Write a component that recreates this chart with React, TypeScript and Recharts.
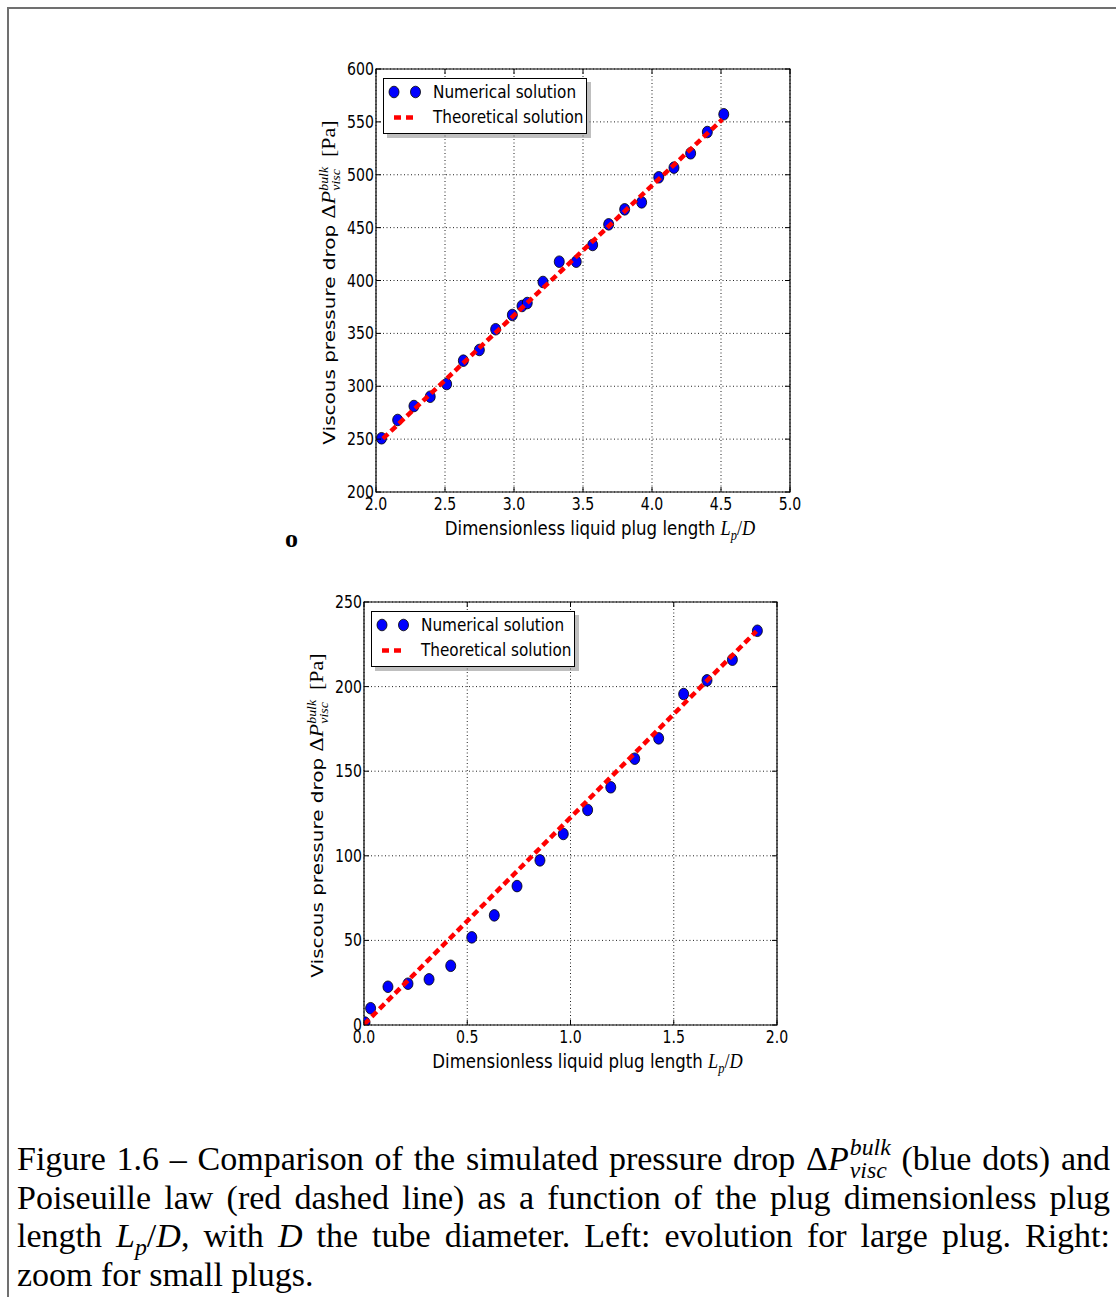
import React from 'react';
import { ScatterChart, Scatter, XAxis, YAxis, CartesianGrid, ReferenceArea, Legend, Label } from 'recharts';

// Large plugs (upper panel)
const largeLength = [2.04, 2.157, 2.275, 2.393, 2.512, 2.633, 2.749, 2.867, 2.988, 3.058, 3.096, 3.21, 3.328, 3.451, 3.57, 3.686, 3.802, 3.925, 4.049, 4.159, 4.28, 4.401, 4.52];
const largeDrop = [250.8, 268.1, 281.3, 290.1, 302.1, 324.2, 334.3, 353.9, 367.4, 375.9, 378.7, 398.6, 417.8, 417.8, 433.6, 453.1, 467.3, 473.9, 497.6, 506.7, 520.3, 540.4, 557.2];
const largeTheoryLength = [2.05, 4.51];
const largeTheoryDrop = [250.5, 552.4];
const largeLengthTicks = [2.0, 2.5, 3.0, 3.5, 4.0, 4.5, 5.0];
const largeDropTicks = [200, 250, 300, 350, 400, 450, 500, 550, 600];

// Small plugs (lower panel)
const smallLength = [0.005, 0.032, 0.116, 0.213, 0.315, 0.42, 0.522, 0.631, 0.741, 0.852, 0.965, 1.083, 1.195, 1.311, 1.427, 1.548, 1.661, 1.784, 1.905];
const smallDrop = [1.4, 9.9, 22.6, 24.4, 27.0, 35.0, 51.8, 64.8, 82.1, 97.3, 112.9, 127.1, 140.5, 157.4, 169.4, 195.6, 203.7, 215.9, 233.0];
const smallTheoryLength = [0.0, 1.9];
const smallTheoryDrop = [0.3, 232.7];
const smallLengthTicks = [0.0, 0.5, 1.0, 1.5, 2.0];
const smallDropTicks = [0, 50, 100, 150, 200, 250];

const K = 0.83; // the figure is squeezed horizontally in the page
const SANS = 'DejaVu Sans';
const MATH = 'Liberation Serif';
const PLOT_H = 423;

const toPoints = (xs: number[], ys: number[]) => xs.map((x, i) => ({ x, y: ys[i] }));

function Dot(props: any) {
  return <ellipse cx={props.cx} cy={props.cy} rx={5} ry={5.8} fill="#0000ff" stroke="#000" strokeWidth={0.8} />;
}

function XTick(props: any) {
  const { x, y, payload, plotH } = props;
  return (
    <g>
      <line x1={x} y1={y} x2={x} y2={y - 5} stroke="#000" />
      <line x1={x} y1={y - plotH} x2={x} y2={y - plotH + 5} stroke="#000" />
      <text transform={`translate(${x},${y + 18}) scale(${K},1)`} textAnchor="middle" fontFamily={SANS} fontSize={17} fill="#000">
        {Number(payload.value).toFixed(1)}
      </text>
    </g>
  );
}

function YTick(props: any) {
  const { x, y, payload, plotW } = props;
  return (
    <g>
      <line x1={x} y1={y} x2={x + 5} y2={y} stroke="#000" />
      <line x1={x + plotW} y1={y} x2={x + plotW - 5} y2={y} stroke="#000" />
      <text transform={`translate(${x - 2},${y + 6}) scale(${K},1)`} textAnchor="end" fontFamily={SANS} fontSize={17} fill="#000">
        {payload.value}
      </text>
    </g>
  );
}

function XTitle(props: any) {
  const { x, y, width } = props.viewBox;
  return (
    <text transform={`translate(${x + width / 2 + 17},${y + 43}) scale(${K},1)`} textAnchor="middle" fontFamily={SANS} fontSize={20} fill="#000">
      Dimensionless liquid plug length{' '}
      <tspan fontFamily={MATH} fontStyle="italic" fontSize={22}>L</tspan>
      <tspan fontFamily={MATH} fontStyle="italic" fontSize={15} dy={5}>p</tspan>
      <tspan fontFamily={MATH} fontSize={22} dy={-5}>/</tspan>
      <tspan fontFamily={MATH} fontStyle="italic" fontSize={22}>D</tspan>
    </text>
  );
}

function YTitle(props: any) {
  const { x, y, height } = props.viewBox;
  return (
    <text transform={`translate(${x + 65},${y + height / 2 + 2}) rotate(-90) scale(1,${K})`} textAnchor="middle" fontFamily={SANS} fontSize={20} fill="#000">
      Viscous pressure drop{' '}
      <tspan fontFamily={MATH} fontSize={22}>Δ</tspan>
      <tspan fontFamily={MATH} fontStyle="italic" fontSize={22}>P</tspan>
      <tspan fontFamily={MATH} fontStyle="italic" fontSize={14} dy={-9}>bulk</tspan>
      <tspan fontFamily={MATH} fontStyle="italic" fontSize={14} dx={-24} dy={15}>visc</tspan>
      <tspan fontFamily={MATH} fontSize={22} dx={12} dy={-6}>[Pa]</tspan>
    </text>
  );
}

function FitLegend() {
  return (
    <svg width={212} height={64} style={{ display: 'block' }}>
      <rect x={4} y={4} width={204} height={56} fill="#7f7f7f" opacity={0.5} />
      <rect x={0.5} y={0.5} width={203} height={55} fill="#fff" stroke="#000" />
      <ellipse cx={11} cy={14} rx={5} ry={5.8} fill="#0000ff" stroke="#000" strokeWidth={0.8} />
      <ellipse cx={32.5} cy={14} rx={5} ry={5.8} fill="#0000ff" stroke="#000" strokeWidth={0.8} />
      <text transform={`translate(50,20) scale(${K},1)`} fontFamily={SANS} fontSize={18.4} fill="#000">Numerical solution</text>
      <line x1={11} y1={39.5} x2={31} y2={39.5} stroke="#ff0000" strokeWidth={4.5} strokeDasharray="7 5" />
      <text transform={`translate(50,45) scale(${K},1)`} fontFamily={SANS} fontSize={18.4} fill="#000">Theoretical solution</text>
    </svg>
  );
}

interface DropChartProps {
  points: { x: number; y: number }[];
  theory: { x: number; y: number }[];
  xTicks: number[];
  yTicks: number[];
  rightMargin: number;
  legendLeft: number;
}

function DropChart({ points, theory, xTicks, yTicks, rightMargin, legendLeft }: DropChartProps) {
  const xDomain = [xTicks[0], xTicks[xTicks.length - 1]];
  const yDomain = [yTicks[0], yTicks[yTicks.length - 1]];
  const plotW = 540 - 106 - rightMargin;
  return (
    <ScatterChart width={540} height={510} margin={{ top: 19, right: rightMargin, bottom: 0, left: 0 }}>
      <CartesianGrid stroke="#222" strokeWidth={1} strokeDasharray="1 2.5" />
      <XAxis
        type="number"
        dataKey="x"
        domain={xDomain}
        ticks={xTicks}
        interval={0}
        allowDataOverflow
        height={68}
        axisLine={false}
        tickLine={false}
        tickSize={0}
        tickMargin={0}
        tick={(p: any) => <XTick {...p} plotH={PLOT_H} />}
      >
        <Label content={(p: any) => <XTitle {...p} />} />
      </XAxis>
      <YAxis
        type="number"
        dataKey="y"
        domain={yDomain}
        ticks={yTicks}
        interval={0}
        allowDataOverflow
        width={106}
        axisLine={false}
        tickLine={false}
        tickSize={0}
        tickMargin={0}
        tick={(p: any) => <YTick {...p} plotW={plotW} />}
      >
        <Label content={(p: any) => <YTitle {...p} />} />
      </YAxis>
      <ReferenceArea x1={xDomain[0]} x2={xDomain[1]} y1={yDomain[0]} y2={yDomain[1]} fill="none" stroke="#000" strokeWidth={1.2} fillOpacity={0} />
      <Scatter data={points} shape={Dot} isAnimationActive={false} />
      <Scatter
        data={theory}
        line={{ stroke: '#ff0000', strokeWidth: 4.5, strokeDasharray: '7 4' }}
        shape={() => <g />}
        isAnimationActive={false}
      />
      <Legend
        layout="vertical"
        align="center"
        verticalAlign="middle"
        content={() => <FitLegend />}
        wrapperStyle={{ left: legendLeft, top: 28, width: 212 }}
      />
    </ScatterChart>
  );
}

function Scripts({ sup, sub }: { sup: string; sub: string }) {
  return (
    <span
      style={{
        display: 'inline-flex',
        flexDirection: 'column',
        fontSize: '0.7em',
        lineHeight: '23px',
        fontStyle: 'italic',
        position: 'relative',
        top: -15,
        marginLeft: 1,
      }}
    >
      <span>{sup}</span>
      <span>{sub}</span>
    </span>
  );
}

const lineStyle: React.CSSProperties = {
  height: 38.5,
  whiteSpace: 'nowrap',
  textAlign: 'justify',
  textAlignLast: 'justify',
};

function Caption() {
  return (
    <div
      style={{
        position: 'absolute',
        left: 17,
        top: 1140,
        width: 1093,
        fontFamily: MATH,
        fontSize: 34,
        lineHeight: '38.5px',
        color: '#000',
      }}
    >
      <div style={lineStyle}>
        Figure 1.6 – Comparison of the simulated pressure drop Δ<i>P</i>
        <Scripts sup="bulk" sub="visc" /> (blue dots) and
      </div>
      <div style={lineStyle}>Poiseuille law (red dashed line) as a function of the plug dimensionless plug</div>
      <div style={lineStyle}>
        length <i>L</i>
        <i style={{ fontSize: '0.7em', position: 'relative', top: 8 }}>p</i>/<i>D</i>, with <i>D</i> the tube diameter. Left: evolution for large plug. Right:
      </div>
      <div style={{ ...lineStyle, textAlignLast: 'left' }}>zoom for small plugs.</div>
    </div>
  );
}

export default function App() {
  return (
    <div style={{ position: 'absolute', left: 0, top: 0, width: 1116, height: 1297, overflow: 'hidden', background: '#fff' }}>
      <div
        style={{
          position: 'absolute',
          left: 7,
          top: 7,
          width: 1200,
          height: 1400,
          borderTop: '2px solid #707070',
          borderLeft: '2px solid #707070',
        }}
      />
      <div style={{ position: 'absolute', left: 270, top: 50 }}>
        <DropChart
          points={toPoints(largeLength, largeDrop)}
          theory={toPoints(largeTheoryLength, largeTheoryDrop)}
          xTicks={largeLengthTicks}
          yTicks={largeDropTicks}
          rightMargin={20}
          legendLeft={113}
        />
      </div>
      <div style={{ position: 'absolute', left: 285, top: 524, fontFamily: MATH, fontSize: 26, fontWeight: 'bold', lineHeight: '30px' }}>o</div>
      <div style={{ position: 'absolute', left: 258, top: 583 }}>
        <DropChart
          points={toPoints(smallLength, smallDrop)}
          theory={toPoints(smallTheoryLength, smallTheoryDrop)}
          xTicks={smallLengthTicks}
          yTicks={smallDropTicks}
          rightMargin={21}
          legendLeft={113}
        />
      </div>
      <Caption />
    </div>
  );
}
